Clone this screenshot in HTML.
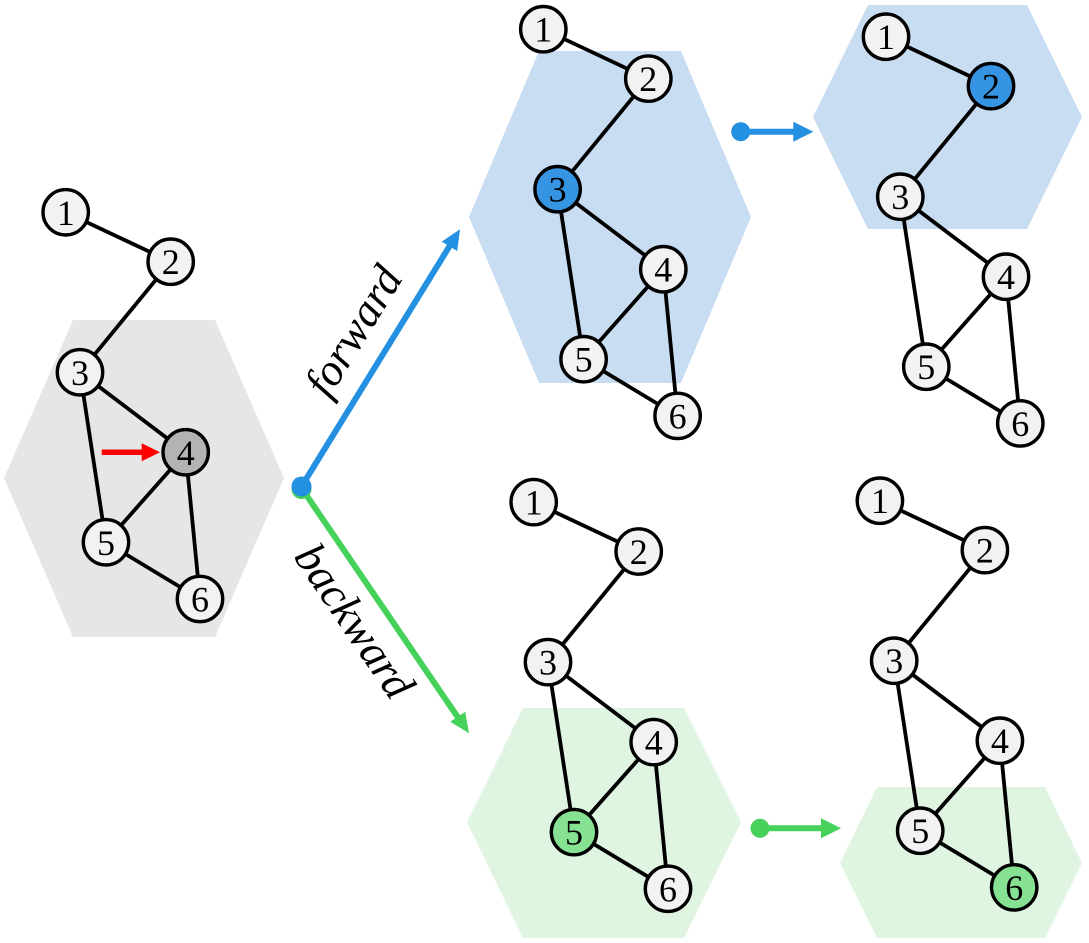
<!DOCTYPE html>
<html>
<head>
<meta charset="utf-8">
<style>
  html, body { margin: 0; padding: 0; background: #ffffff; }
  svg { display: block; }
  .e { stroke: #000; stroke-width: 3.8; }
  .n { stroke: #000; stroke-width: 3.4; fill: #f2f2f2; }
  .t { font-family: "Liberation Serif", serif; font-size: 36px; text-anchor: middle; fill: #000; }
  .lab { font-family: "Liberation Serif", serif; font-style: italic; font-size: 45px; text-anchor: middle; fill: #000; }
</style>
</head>
<body>
<svg width="1089" height="943" viewBox="0 0 1089 943" xmlns="http://www.w3.org/2000/svg">
  <!-- hexagons -->
  <polygon points="73,320 215,320 284,478 215,637 73,637 4,478" fill="#e6e6e6"/>
  <polygon points="539,51 681,51 751,217 681,383 539,383 469,217" fill="#c9ddf2"/>
  <polygon points="868,5 1027,5 1082,117 1027,229 868,229 813,117" fill="#c9ddf2"/>
  <polygon points="523,708 684,708 741,822 684,938 523,938 467,822" fill="#dff5e1"/>
  <polygon points="877,787 1045,787 1082,863 1045,938 877,938 840,863" fill="#dff5e1"/>

  <!-- big arrows -->
  <line x1="301.5" y1="488" x2="459" y2="719" stroke="#45d15a" stroke-width="6"/>
  <polygon points="469,733.3 450.3,721.8 465.2,711.7" fill="#45d15a"/>
  <line x1="301.5" y1="486.5" x2="450.5" y2="244.6" stroke="#2490e1" stroke-width="6"/>
  <polygon points="460,229.3 457.2,251.0 441.8,241.6" fill="#2490e1"/>
  <circle cx="301.5" cy="489" r="10" fill="#45d15a"/>
  <circle cx="301.5" cy="486.5" r="10" fill="#2490e1"/>

  <!-- labels -->
  <g transform="translate(355,332) rotate(-58.3)">
    <text class="lab" x="0" y="13">forward</text>
  </g>
  <g transform="translate(353,622) rotate(55.8)">
    <text class="lab" x="0" y="13">backward</text>
  </g>

  <!-- small arrows -->
  <circle cx="740.7" cy="131.7" r="9.5" fill="#2490e1"/>
  <line x1="740" y1="131.7" x2="796" y2="131.7" stroke="#2490e1" stroke-width="6"/>
  <polygon points="793.3,121.7 813.3,131.7 793.3,141.7" fill="#2490e1"/>

  <circle cx="760" cy="828.3" r="9.5" fill="#45d15a"/>
  <line x1="760" y1="828.3" x2="823" y2="828.3" stroke="#45d15a" stroke-width="6"/>
  <polygon points="821,818.3 841,828.3 821,838.3" fill="#45d15a"/>

  <!-- red arrow -->
  <line x1="101.7" y1="452.3" x2="144" y2="452.3" stroke="#ff0000" stroke-width="5.5"/>
  <polygon points="141.7,443.3 160,452.3 141.7,461.3" fill="#ff0000"/>

  <!-- Panel 1 -->
  <g>
    <line class="e" x1="65.7" y1="212.3" x2="170.7" y2="261.7"/>
    <line class="e" x1="170.7" y1="261.7" x2="80" y2="372.3"/>
    <line class="e" x1="80" y1="372.3" x2="185.7" y2="452.3"/>
    <line class="e" x1="80" y1="372.3" x2="106" y2="542.3"/>
    <line class="e" x1="185.7" y1="452.3" x2="106" y2="542.3"/>
    <line class="e" x1="185.7" y1="452.3" x2="200" y2="599"/>
    <line class="e" x1="106" y1="542.3" x2="200" y2="599"/>
    <circle class="n" cx="65.7" cy="212.3" r="22.7"/><text class="t" x="65.7" y="224.8">1</text>
    <circle class="n" cx="170.7" cy="261.7" r="22.7"/><text class="t" x="170.7" y="274.2">2</text>
    <circle class="n" cx="80" cy="372.3" r="22.7"/><text class="t" x="80" y="384.8">3</text>
    <circle class="n" cx="185.7" cy="452.3" r="22.7" style="fill:#b3b3b3"/><text class="t" x="185.7" y="464.8">4</text>
    <circle class="n" cx="106" cy="542.3" r="22.7"/><text class="t" x="106" y="554.8">5</text>
    <circle class="n" cx="200" cy="599" r="22.7"/><text class="t" x="200" y="611.5">6</text>
  </g>

  <!-- Panel 2 (forward, node 3 highlighted) -->
  <g transform="translate(477.6,-183.1)">
    <line class="e" x1="65.7" y1="212.3" x2="170.7" y2="261.7"/>
    <line class="e" x1="170.7" y1="261.7" x2="80" y2="372.3"/>
    <line class="e" x1="80" y1="372.3" x2="185.7" y2="452.3"/>
    <line class="e" x1="80" y1="372.3" x2="106" y2="542.3"/>
    <line class="e" x1="185.7" y1="452.3" x2="106" y2="542.3"/>
    <line class="e" x1="185.7" y1="452.3" x2="200" y2="599"/>
    <line class="e" x1="106" y1="542.3" x2="200" y2="599"/>
    <circle class="n" cx="65.7" cy="212.3" r="22.7"/><text class="t" x="65.7" y="224.8">1</text>
    <circle class="n" cx="170.7" cy="261.7" r="22.7"/><text class="t" x="170.7" y="274.2">2</text>
    <circle class="n" cx="80" cy="372.3" r="22.7" style="fill:#3595e2"/><text class="t" x="80" y="384.8">3</text>
    <circle class="n" cx="185.7" cy="452.3" r="22.7"/><text class="t" x="185.7" y="464.8">4</text>
    <circle class="n" cx="106" cy="542.3" r="22.7"/><text class="t" x="106" y="554.8">5</text>
    <circle class="n" cx="200" cy="599" r="22.7"/><text class="t" x="200" y="611.5">6</text>
  </g>

  <!-- Panel 3 (forward next, node 2 highlighted) -->
  <g transform="translate(820.3,-175.6)">
    <line class="e" x1="65.7" y1="212.3" x2="170.7" y2="261.7"/>
    <line class="e" x1="170.7" y1="261.7" x2="80" y2="372.3"/>
    <line class="e" x1="80" y1="372.3" x2="185.7" y2="452.3"/>
    <line class="e" x1="80" y1="372.3" x2="106" y2="542.3"/>
    <line class="e" x1="185.7" y1="452.3" x2="106" y2="542.3"/>
    <line class="e" x1="185.7" y1="452.3" x2="200" y2="599"/>
    <line class="e" x1="106" y1="542.3" x2="200" y2="599"/>
    <circle class="n" cx="65.7" cy="212.3" r="22.7"/><text class="t" x="65.7" y="224.8">1</text>
    <circle class="n" cx="170.7" cy="261.7" r="22.7" style="fill:#3595e2"/><text class="t" x="170.7" y="274.2">2</text>
    <circle class="n" cx="80" cy="372.3" r="22.7"/><text class="t" x="80" y="384.8">3</text>
    <circle class="n" cx="185.7" cy="452.3" r="22.7"/><text class="t" x="185.7" y="464.8">4</text>
    <circle class="n" cx="106" cy="542.3" r="22.7"/><text class="t" x="106" y="554.8">5</text>
    <circle class="n" cx="200" cy="599" r="22.7"/><text class="t" x="200" y="611.5">6</text>
  </g>

  <!-- Panel 4 (backward, node 5 highlighted) -->
  <g transform="translate(468,289.8)">
    <line class="e" x1="65.7" y1="212.3" x2="170.7" y2="261.7"/>
    <line class="e" x1="170.7" y1="261.7" x2="80" y2="372.3"/>
    <line class="e" x1="80" y1="372.3" x2="185.7" y2="452.3"/>
    <line class="e" x1="80" y1="372.3" x2="106" y2="542.3"/>
    <line class="e" x1="185.7" y1="452.3" x2="106" y2="542.3"/>
    <line class="e" x1="185.7" y1="452.3" x2="200" y2="599"/>
    <line class="e" x1="106" y1="542.3" x2="200" y2="599"/>
    <circle class="n" cx="65.7" cy="212.3" r="22.7"/><text class="t" x="65.7" y="224.8">1</text>
    <circle class="n" cx="170.7" cy="261.7" r="22.7"/><text class="t" x="170.7" y="274.2">2</text>
    <circle class="n" cx="80" cy="372.3" r="22.7"/><text class="t" x="80" y="384.8">3</text>
    <circle class="n" cx="185.7" cy="452.3" r="22.7"/><text class="t" x="185.7" y="464.8">4</text>
    <circle class="n" cx="106" cy="542.3" r="22.7" style="fill:#87e192"/><text class="t" x="106" y="554.8">5</text>
    <circle class="n" cx="200" cy="599" r="22.7"/><text class="t" x="200" y="611.5">6</text>
  </g>

  <!-- Panel 5 (backward next, node 6 highlighted) -->
  <g transform="translate(814.2,288.4)">
    <line class="e" x1="65.7" y1="212.3" x2="170.7" y2="261.7"/>
    <line class="e" x1="170.7" y1="261.7" x2="80" y2="372.3"/>
    <line class="e" x1="80" y1="372.3" x2="185.7" y2="452.3"/>
    <line class="e" x1="80" y1="372.3" x2="106" y2="542.3"/>
    <line class="e" x1="185.7" y1="452.3" x2="106" y2="542.3"/>
    <line class="e" x1="185.7" y1="452.3" x2="200" y2="599"/>
    <line class="e" x1="106" y1="542.3" x2="200" y2="599"/>
    <circle class="n" cx="65.7" cy="212.3" r="22.7"/><text class="t" x="65.7" y="224.8">1</text>
    <circle class="n" cx="170.7" cy="261.7" r="22.7"/><text class="t" x="170.7" y="274.2">2</text>
    <circle class="n" cx="80" cy="372.3" r="22.7"/><text class="t" x="80" y="384.8">3</text>
    <circle class="n" cx="185.7" cy="452.3" r="22.7"/><text class="t" x="185.7" y="464.8">4</text>
    <circle class="n" cx="106" cy="542.3" r="22.7"/><text class="t" x="106" y="554.8">5</text>
    <circle class="n" cx="200" cy="599" r="22.7" style="fill:#87e192"/><text class="t" x="200" y="611.5">6</text>
  </g>
</svg>
</body>
</html>
